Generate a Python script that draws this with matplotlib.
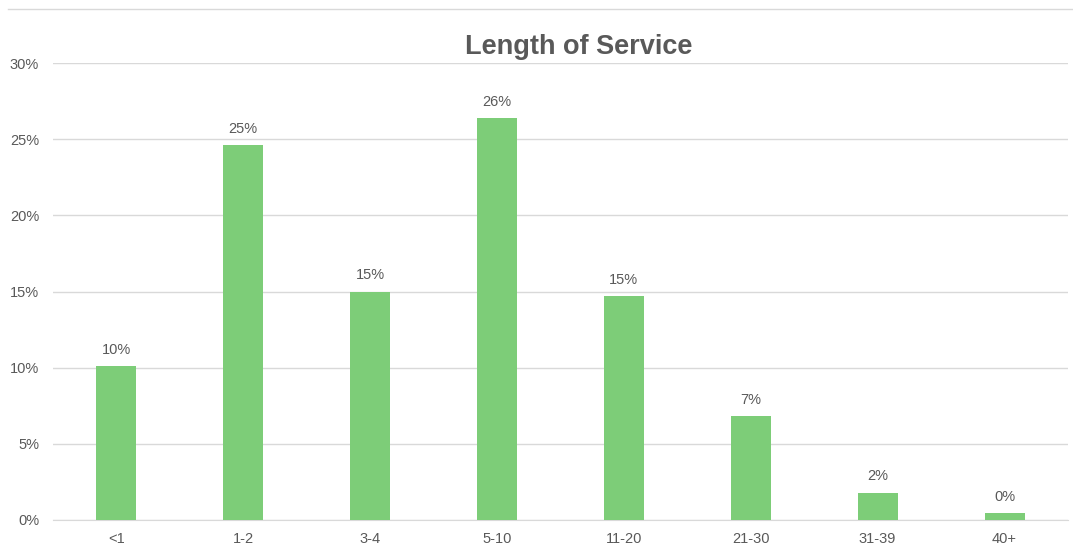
import matplotlib.pyplot as plt
from matplotlib.ticker import FuncFormatter

plt.rcParams['font.family'] = ['Liberation Sans', 'DejaVu Sans']

# Share of staff by years of service
categories = ['<1', '1-2', '3-4', '5-10', '11-20', '21-30', '31-39', '40+']
share = [10.1, 24.6, 15.0, 26.4, 14.7, 6.8, 1.8, 0.46]

text_col = '#595959'
bar_col = '#7dcd78'

fig = plt.figure(figsize=(10.73, 5.48), dpi=100)
ax = fig.add_axes([0.0494, 0.0511, 0.9459, 0.8339])

x = range(len(categories))
bars = ax.bar(x, share, width=0.315, color=bar_col, zorder=3)

for b, v in zip(bars, share):
    ax.text(b.get_x() + b.get_width() / 2, v + 0.6, f'{v:.0f}%',
            ha='center', va='bottom', fontsize=10.5, color=text_col)

ax.set_xlim(-0.5, len(categories) - 0.5)
ax.set_ylim(0, 30)
ax.set_yticks(range(0, 31, 5))
ax.yaxis.set_major_formatter(FuncFormatter(lambda v, p: f'{v:.0f}%'))
ax.set_xticks(list(x))
ax.set_xticklabels(categories)
ax.tick_params(axis='both', length=0, labelsize=10.5, colors=text_col)
ax.tick_params(axis='y', pad=10)
ax.tick_params(axis='x', pad=9)

ax.grid(axis='y', color='#d9d9d9', linewidth=1, zorder=0)
for s in ['top', 'right', 'left']:
    ax.spines[s].set_visible(False)
ax.spines['bottom'].set_color('#d9d9d9')

fig.text(0.539, 0.915, 'Length of Service', ha='center', va='center',
         fontsize=19.5, fontweight='bold', color=text_col)

# light frame line along the top of the chart area
fig.add_artist(plt.Line2D([0.0075, 1.0], [0.984, 0.984], color='#d9d9d9',
                          linewidth=1, transform=fig.transFigure))

fig.savefig('out.png', dpi=100)
